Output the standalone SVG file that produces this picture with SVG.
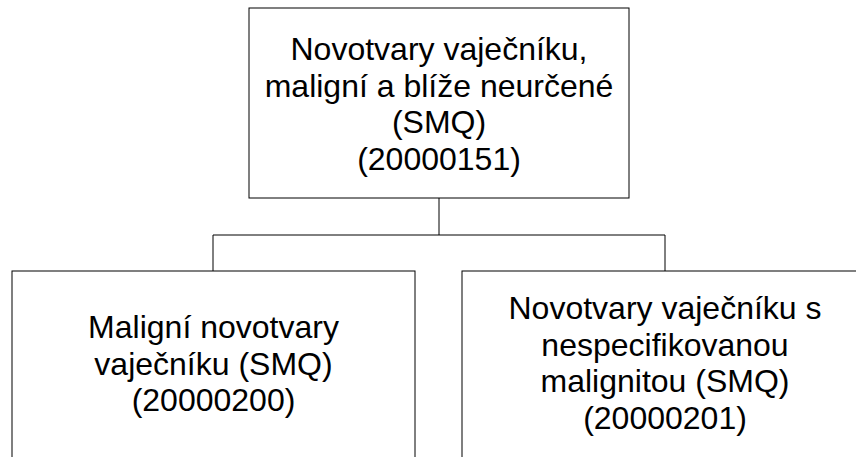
<svg xmlns="http://www.w3.org/2000/svg" width="856" height="457" viewBox="0 0 856 457">
<style>
.box{fill:#fff;stroke:#000;stroke-width:1}
.lbl{font-family:"Liberation Sans",Arial,sans-serif;font-size:32px;fill:#000;text-anchor:middle}
.conn{fill:none;stroke:#000;stroke-width:1}
</style>
<rect width="856" height="457" fill="#fff"/>
<g id="connectors">
<path class="conn" d="M439 198 V235 M213 235 H665 M213 235 V271 M665 235 V271"/>
</g>
<g id="node-root">
<rect class="box" x="249" y="8" width="380" height="190"/>
<text class="lbl" x="439" y="60">Novotvary vaječníku,</text>
<text class="lbl" x="439" y="96.5">maligní a blíže neurčené</text>
<text class="lbl" x="439" y="133">(SMQ)</text>
<text class="lbl" x="439" y="169.5">(20000151)</text>
</g>
<g id="node-left">
<rect class="box" x="12" y="271" width="403" height="200"/>
<text class="lbl" x="213.5" y="338">Maligní novotvary</text>
<text class="lbl" x="213.5" y="374.5">vaječníku (SMQ)</text>
<text class="lbl" x="213.5" y="411">(20000200)</text>
</g>
<g id="node-right">
<rect class="box" x="462" y="271" width="406" height="200"/>
<text class="lbl" x="665" y="319">Novotvary vaječníku s</text>
<text class="lbl" x="665" y="355.5">nespecifikovanou</text>
<text class="lbl" x="665" y="392">malignitou (SMQ)</text>
<text class="lbl" x="665" y="428.5">(20000201)</text>
</g>
</svg>
